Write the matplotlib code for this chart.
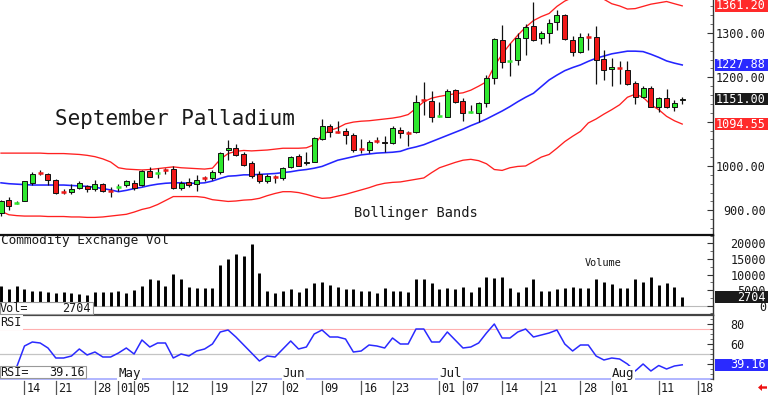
import numpy as np
import pandas as pd
import matplotlib
matplotlib.use("Agg")
import matplotlib.pyplot as plt
from matplotlib.patches import Rectangle, Polygon
from matplotlib.ticker import MultipleLocator, FixedLocator
from matplotlib.transforms import blended_transform_factory as blend

# ---------------- data ----------------
holidays = ["2025-04-18", "2025-05-26", "2025-06-19", "2025-07-04"]
dates = pd.bdate_range("2025-04-09", "2025-08-14")
dates = dates[~dates.isin(pd.to_datetime(holidays))]

opens = [893, 923, 917, 921, 961, 986, 981, 968, 943, 941,
         951, 955, 948, 959, 945, 952, 956, 962, 956, 989,
         984, 992, 993, 951, 963, 959, 973, 972, 987, 1035,
         1040, 1027, 1006, 982, 965, 977, 972, 998, 1023, 1007,
         1010, 1060, 1090, 1078, 1079, 1070, 1038, 1035, 1057, 1055,
         1051, 1081, 1075, 1076, 1150, 1147, 1113, 1111, 1171, 1147,
         1120, 1119, 1143, 1199, 1284, 1236, 1240, 1288, 1316, 1288,
         1299, 1324, 1341, 1284, 1256, 1291, 1292, 1241, 1218, 1222,
         1216, 1188, 1155, 1177, 1134, 1154, 1132, 1148]
highs = [923, 929, 920, 966, 987, 990, 985, 970, 947, 959,
         965, 956, 968, 962, 953, 960, 969, 968, 991, 998,
         995, 995, 1001, 965, 972, 980, 978, 990, 1032, 1058,
         1050, 1032, 1011, 989, 983, 980, 998, 1023, 1027, 1031,
         1066, 1107, 1095, 1102, 1085, 1074, 1060, 1059, 1066, 1068,
         1090, 1087, 1078, 1160, 1190, 1170, 1145, 1173, 1173, 1153,
         1138, 1145, 1205, 1288, 1318, 1277, 1299, 1320, 1371, 1305,
         1331, 1352, 1343, 1293, 1299, 1299, 1316, 1262, 1243, 1236,
         1236, 1192, 1180, 1180, 1156, 1173, 1149, 1155]
lows = [887, 901, 914, 920, 957, 980, 957, 937, 937, 937,
        948, 942, 944, 942, 931, 944, 953, 946, 955, 976,
        972, 983, 948, 946, 953, 944, 966, 969, 981, 1014,
        1022, 1000, 972, 961, 961, 961, 968, 995, 1001, 1002,
        1008, 1059, 1066, 1074, 1050, 1032, 1029, 1029, 1051, 1032,
        1050, 1062, 1046, 1074, 1115, 1100, 1110, 1110, 1141, 1102,
        1119, 1100, 1134, 1186, 1220, 1203, 1228, 1250, 1283, 1275,
        1278, 1307, 1284, 1247, 1254, 1262, 1186, 1194, 1180, 1184,
        1183, 1140, 1153, 1133, 1121, 1130, 1125, 1140]
closes = [920, 910, 918, 965, 983, 984, 968, 938, 941, 948,
          962, 948, 959, 943, 944, 954, 965, 950, 989, 976,
          986, 990, 951, 961, 957, 968, 971, 986, 1030, 1040,
          1025, 1002, 978, 965, 978, 975, 995, 1021, 1001, 1010,
          1062, 1090, 1077, 1077, 1070, 1035, 1037, 1055, 1055, 1051,
          1085, 1074, 1073, 1144, 1148, 1111, 1114, 1169, 1145, 1120,
          1122, 1141, 1199, 1286, 1235, 1238, 1288, 1313, 1284, 1299,
          1323, 1341, 1286, 1258, 1290, 1290, 1238, 1216, 1224, 1221,
          1186, 1156, 1175, 1134, 1153, 1134, 1143, 1151]

bb_upper = [1029, 1029, 1029, 1029, 1029, 1029, 1028, 1028, 1028, 1027,
            1026, 1024, 1021, 1016, 1009, 996, 993, 992, 991, 992,
            994, 996, 998, 996, 995, 994, 993, 995, 1015, 1028,
            1033, 1035, 1034, 1035, 1036, 1038, 1040, 1040, 1040, 1041,
            1048, 1070, 1080, 1086, 1095, 1099, 1101, 1102, 1104, 1106,
            1108, 1111, 1116, 1130, 1145, 1153, 1157, 1160, 1163, 1165,
            1171, 1180, 1190, 1225, 1252, 1275, 1295, 1313, 1328, 1337,
            1344, 1360, 1372, 1380, 1385, 1386, 1383, 1376, 1366, 1361,
            1354, 1355, 1360, 1365, 1368, 1371, 1366, 1361.20]
bb_mid = [962, 960, 959, 958, 957, 957, 957, 957, 957, 956,
          955, 954, 952, 949, 946, 942, 945, 949, 952, 956,
          959, 961, 962, 962, 961, 961, 962, 966, 972, 977,
          978, 980, 980, 981, 982, 983, 985, 987, 990, 992,
          995, 999, 1006, 1013, 1017, 1021, 1025, 1027, 1029, 1030,
          1031, 1033, 1039, 1043, 1048, 1055, 1062, 1069, 1076, 1083,
          1091, 1098, 1106, 1115, 1124, 1134, 1145, 1155, 1164, 1179,
          1194, 1205, 1215, 1222, 1228, 1236, 1243, 1248, 1253, 1256,
          1259, 1259, 1258, 1252, 1245, 1237, 1232, 1227.88]
bb_lower = [898, 890, 888, 887, 887, 887, 886, 886, 886, 885,
            885, 884, 884, 885, 887, 889, 891, 896, 902, 906,
            913, 922, 931, 931, 931, 931, 929, 924, 922, 920,
            921, 923, 924, 927, 933, 938, 942, 942, 940, 936,
            931, 927, 928, 932, 936, 941, 946, 951, 957, 961,
            963, 964, 967, 970, 973, 985, 996, 1002, 1008, 1013,
            1015, 1012, 1005, 992, 990, 996, 999, 1000, 1010, 1020,
            1026, 1040, 1055, 1067, 1078, 1097, 1106, 1117, 1127, 1138,
            1155, 1162, 1155, 1138, 1127, 1112, 1102, 1094.55]

volume = [6200, 5400, 6400, 5200, 4800, 4600, 4300, 4100, 4300, 4100,
          3800, 3300, 4300, 4400, 4400, 4600, 4100, 4900, 6400, 8700,
          8300, 6400, 10200, 8400, 6000, 5700, 5700, 5700, 13000, 15100,
          16500, 15900, 19900, 10500, 4600, 4100, 4800, 5200, 4300, 5700,
          7300, 7500, 6600, 6000, 5400, 5200, 4600, 4600, 4100, 5700,
          4800, 4800, 4400, 8400, 8400, 7300, 5400, 5700, 5400, 6000,
          4500, 5900, 9100, 9000, 9300, 5700, 4400, 5900, 8400, 4600,
          4600, 5200, 5700, 5900, 5700, 5500, 8700, 7600, 6800, 5700,
          5500, 8400, 7600, 9100, 6500, 7300, 5900, 2704]

rsi = [25, 30, 37, 58, 62, 61, 56, 46, 46, 48,
       55, 49, 52, 47, 47, 51, 56, 50, 64, 57,
       61, 61, 46, 50, 48, 53, 55, 60, 72, 74,
       67, 59, 51, 43, 48, 47, 55, 63, 55, 57,
       70, 74, 67, 67, 65, 52, 53, 59, 58, 56,
       66, 60, 60, 75, 75, 62, 62, 72, 64, 56,
       57, 61, 71, 80, 66, 66, 72, 75, 67, 69,
       71, 74, 60, 53, 59, 59, 48, 44, 46, 45,
       40, 33, 40, 33, 38.5, 35, 38, 39.16]

tick_dates = ["2025-04-14", "2025-04-21", "2025-04-28", "2025-05-01", "2025-05-05",
              "2025-05-12", "2025-05-19", "2025-05-27", "2025-06-02", "2025-06-09",
              "2025-06-16", "2025-06-23", "2025-07-01", "2025-07-07", "2025-07-14",
              "2025-07-21", "2025-07-28", "2025-08-01", "2025-08-11", "2025-08-18"]
tick_labels = ["14", "21", "28", "01", "05", "12", "19", "27", "02", "09",
               "16", "23", "01", "07", "14", "21", "28", "01", "11", "18"]
month_dates = ["2025-05-01", "2025-06-02", "2025-07-01", "2025-08-01"]
month_labels = ["May", "Jun", "Jul", "Aug"]

# ---------------- layout ----------------
W, H = 768, 395
MONO = "DejaVu Sans Mono"
plt.rcParams["font.family"] = [MONO, "DejaVu Sans"]
TXT = "#1a1a1a"


def rect(x0, y0, x1, y1):
    return [x0 / W, 1 - y1 / H, (x1 - x0) / W, (y1 - y0) / H]


def fx(px):
    return px / W


def fy(py):
    return 1 - py / H


def bidx(d):
    return int(np.busday_count("2025-04-09", d, holidays=holidays))


x = np.arange(len(dates))
XL = (-0.128, 90.93)

fig = plt.figure(figsize=(W / 100, H / 100), dpi=100)
fig.patch.set_facecolor("white")
ax_p = fig.add_axes(rect(0, 0, 713, 235))
ax_v = fig.add_axes(rect(0, 235, 713, 315))
ax_r = fig.add_axes(rect(0, 315, 713, 379))

for ax in (ax_p, ax_v, ax_r):
    ax.set_xlim(*XL)
    ax.set_facecolor("white")
    for s in ("top", "left", "bottom"):
        ax.spines[s].set_visible(False)
    ax.spines["right"].set_color("#333333")
    ax.spines["right"].set_linewidth(1.0)
    ax.set_xticks([])
    ax.yaxis.tick_right()
    ax.tick_params(axis="y", which="major", direction="in", length=4,
                   width=0.8, colors="#333333", labelcolor=TXT, labelsize=8.5)
    ax.tick_params(axis="y", which="minor", direction="in", length=2,
                   width=0.6, colors="#555555")

ax_v.spines["top"].set_visible(True)
ax_v.spines["top"].set_color("#111111")
ax_v.spines["top"].set_linewidth(1.6)
ax_r.spines["top"].set_visible(True)
ax_r.spines["top"].set_color("#444444")
ax_r.spines["top"].set_linewidth(1.6)

# ---------------- price panel ----------------
ax_p.set_ylim(844.3, 1374.4)
ax_p.yaxis.set_major_locator(FixedLocator([900, 1000, 1100, 1200, 1300]))
ax_p.yaxis.set_minor_locator(MultipleLocator(20))
ax_p.set_yticklabels(["%.2f" % v for v in [900, 1000, 1100, 1200, 1300]])
ax_p.tick_params(axis="y", which="major", pad=53 * 0.72)
for lb in ax_p.get_yticklabels():
    lb.set_horizontalalignment("right")

GREEN = "#2ee82e"
RED = "#f01818"
bw = 0.64
for i in x:
    o, h, l, c = opens[i], highs[i], lows[i], closes[i]
    col = GREEN if c >= o else RED
    ax_p.vlines(i, l, h, color="#111111", lw=0.9, zorder=3)
    if abs(c - o) < 2.5:
        ax_p.hlines((o + c) / 2, i - bw / 2, i + bw / 2, color=col, lw=1.8, zorder=4)
    else:
        ax_p.add_patch(Rectangle((i - bw / 2, min(o, c)), bw, abs(c - o),
                                 facecolor=col, edgecolor="#111111", lw=0.7, zorder=4))

ax_p.plot(x, bb_upper, color="#ff2020", lw=0.95, zorder=2)
ax_p.plot(x, bb_lower, color="#ff2020", lw=0.95, zorder=2)
ax_p.plot(x, bb_mid, color="#2424ff", lw=1.15, zorder=2)

fig.text(fx(55), fy(125), "September Palladium", fontsize=15, color=TXT,
         va="baseline", ha="left", family=MONO)
fig.text(fx(354), fy(217), "Bollinger Bands", fontsize=9.8, color=TXT,
         va="baseline", ha="left", family=MONO)


def value_box(ax, val, text, color, half_px=6):
    y0, y1 = ax.get_ylim()
    hpx = ax.get_position().height * H
    du = (y1 - y0) / hpx * half_px
    tr = blend(fig.transFigure, ax.transData)
    ax.add_patch(Rectangle((fx(715), val - du), fx(768) - fx(715), 2 * du,
                           transform=tr, facecolor=color, edgecolor="none",
                           clip_on=False, zorder=10))
    ax.text(fx(766), val, text, transform=tr, ha="right", va="center",
            color="white", fontsize=8.5, clip_on=False, zorder=11, family=MONO)


value_box(ax_p, bb_upper[-1], "%.2f" % bb_upper[-1], "#ff2a2a")
value_box(ax_p, bb_mid[-1], "%.2f" % bb_mid[-1], "#2a2aff")
value_box(ax_p, closes[-1], "%.2f" % closes[-1], "#1a1a1a")
value_box(ax_p, bb_lower[-1], "%.2f" % bb_lower[-1], "#ff2a2a")

# ---------------- volume panel ----------------
ax_v.set_ylim(-3060, 22740)
ax_v.yaxis.set_major_locator(FixedLocator([0, 5000, 10000, 15000, 20000]))
ax_v.yaxis.set_minor_locator(MultipleLocator(2500))
ax_v.set_yticklabels(["0", "5000", "10000", "15000", "20000"])
ax_v.tick_params(axis="y", which="major", pad=53 * 0.72)
for lb in ax_v.get_yticklabels():
    lb.set_horizontalalignment("right")
ax_v.axhline(0, color="#bbbbbb", lw=0.8, zorder=1)
ax_v.vlines(x, 0, volume, color="#000000", lw=2.1, zorder=3)
ax_v.text(0.001, 0.93, "Commodity Exchange Vol", transform=ax_v.transAxes,
          fontsize=9.2, color=TXT, ha="left", va="center", family=MONO)
fig.text(fx(585), fy(262.5), "Volume", fontsize=7.4, color=TXT,
         ha="left", va="center", family=MONO)
value_box(ax_v, volume[-1], "%d" % volume[-1], "#1a1a1a")

# Vol= box
fig.patches.append(Rectangle((fx(0), fy(314)), fx(93) - fx(0), fy(302) - fy(314),
                             transform=fig.transFigure, facecolor="white",
                             edgecolor="#999999", lw=0.8, zorder=20))
fig.text(fx(0), fy(308.5), "Vol=", fontsize=8.5, color=TXT, ha="left",
         va="center", zorder=21, family=MONO)
fig.text(fx(91), fy(308.5), "%d" % volume[-1], fontsize=8.5, color=TXT,
         ha="right", va="center", zorder=21, family=MONO)

# ---------------- RSI panel ----------------
ax_r.set_ylim(25, 89)
ax_r.yaxis.set_major_locator(FixedLocator([40, 60, 80]))
ax_r.yaxis.set_minor_locator(MultipleLocator(5))
ax_r.set_yticklabels(["40", "60", "80"])
ax_r.tick_params(axis="y", which="major", pad=17 * 0.72)
ax_r.axhline(75, color="#ffb0b0", lw=0.8, zorder=1)
ax_r.axhline(50, color="#c4c4c4", lw=0.9, zorder=1)
ax_r.axhline(25, color="#aab0ff", lw=1.3, zorder=1, clip_on=False)
ax_r.plot(x, rsi, color="#2a2aff", lw=1.1, zorder=3)
ax_r.text(0.0, 0.89, "RSI", transform=ax_r.transAxes, fontsize=8.5, color=TXT,
          ha="left", va="center", family=MONO, zorder=5,
          bbox=dict(facecolor="white", edgecolor="none", pad=1.0))
value_box(ax_r, rsi[-1], "%.2f" % rsi[-1], "#2a2aff")

fig.patches.append(Rectangle((fx(0), fy(378)), fx(86) - fx(0), fy(366) - fy(378),
                             transform=fig.transFigure, facecolor="white",
                             edgecolor="#999999", lw=0.8, zorder=20))
fig.text(fx(0), fy(372.5), "RSI=", fontsize=8.5, color=TXT, ha="left",
         va="center", zorder=21, family=MONO)
fig.text(fx(85), fy(372.5), "%.2f" % rsi[-1], fontsize=8.5, color=TXT,
         ha="right", va="center", zorder=21, family=MONO)

# month labels
trm = blend(ax_r.transData, fig.transFigure)
for d, lab in zip(month_dates, month_labels):
    ax_r.text(bidx(d) - 0.03, fy(373.5), lab, transform=trm, fontsize=9,
              color=TXT, ha="left", va="center", family=MONO, zorder=6,
              clip_on=False,
              bbox=dict(facecolor="white", edgecolor="none", pad=0.6))

# date row
for d, lab in zip(tick_dates, tick_labels):
    p = bidx(d)
    ax_r.plot([p, p], [fy(381), fy(395)], transform=trm, color="#555555",
              lw=0.9, clip_on=False)
    ax_r.text(p + 0.28, fy(388.5), lab, transform=trm, fontsize=8.5,
              color=TXT, ha="left", va="center", family=MONO, clip_on=False)

# red arrow bottom right
pts = [(758, 387.5), (762, 384), (762, 386.3), (767, 386.3),
       (767, 388.7), (762, 388.7), (762, 391)]
fig.patches.append(Polygon([(fx(a), fy(b)) for a, b in pts], closed=True,
                           transform=fig.transFigure, facecolor="#ee1111",
                           edgecolor="none"))

fig.savefig("out.png", dpi=100, facecolor="white")
